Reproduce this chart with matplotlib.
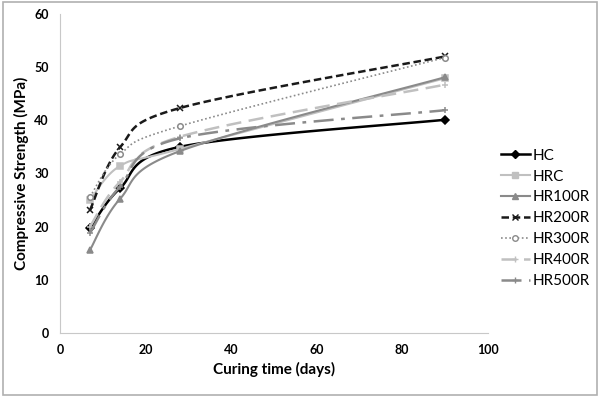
import numpy as np
import matplotlib
matplotlib.use("Agg")
import matplotlib.pyplot as plt

plt.rcParams['font.family'] = ['Lato', 'DejaVu Sans']

# curing days and strengths (MPa)
dias = [7, 14, 28, 90]
series = ["HC", "HRC", "HR100R", "HR200R", "HR300R", "HR400R", "HR500R"]
hc = [19.7, 27.2, 35.0, 40.1]
hrc = [25.0, 31.4, 34.6, 47.9]
hr100r = [15.6, 25.2, 34.2, 48.1]
hr200r = [23.1, 34.9, 42.3, 52.0]
hr300r = [25.6, 33.6, 38.9, 51.8]
hr400r = [20.0, 28.4, 36.9, 46.7]
hr500r = [18.8, 27.5, 36.6, 41.9]
valores = [hc, hrc, hr100r, hr200r, hr300r, hr400r, hr500r]

estilos = [
    dict(color="black", ls="-", marker="D", ms=4, lw=1.8, mfc="black"),
    dict(color="#c0c0c0", ls="-", marker="s", ms=4, lw=1.5, mfc="#c0c0c0"),
    dict(color="#8a8a8a", ls="-", marker="^", ms=4, lw=1.5, mfc="#8a8a8a"),
    dict(color="#1a1a1a", ls=(0, (3, 1.5)), marker="x", ms=4, lw=1.8, mfc="none"),
    dict(color="#8a8a8a", ls=(0, (1, 1.5)), marker="o", ms=4, lw=1.2, mfc="white"),
    dict(color="#c0c0c0", ls=(0, (6, 3)), marker="+", ms=5, lw=1.8, mfc="none"),
    dict(color="#8a8a8a", ls=(0, (8, 3, 1.5, 3)), marker="+", ms=5, lw=1.8, mfc="none"),
]


def suavizar(x, y, sx, sy, n=40):
    # Excel-like smoothed line: cubic Bezier in screen units
    p = np.column_stack([np.array(x) * sx, np.array(y) * sy])
    ext = np.vstack([p[0], p, p[-1]])
    pts = []
    for i in range(len(p) - 1):
        p0, p1, p2, p3 = ext[i], ext[i + 1], ext[i + 2], ext[i + 3]
        c1 = p1 + (p2 - p0) / 6
        c2 = p2 - (p3 - p1) / 6
        t = np.linspace(0, 1, n)[:, None]
        b = ((1 - t) ** 3) * p1 + 3 * ((1 - t) ** 2) * t * c1 + 3 * (1 - t) * t ** 2 * c2 + t ** 3 * p2
        pts.append(b)
    pts = np.vstack(pts)
    return pts[:, 0] / sx, pts[:, 1] / sy


fig = plt.figure(figsize=(6, 3.97), dpi=100)
ax = fig.add_axes([0.1, 0.161, 0.713, 0.804])

sx = 428 / 100
sy = 319 / 60
for nombre, v, st in zip(series, valores, estilos):
    xs, ys = suavizar(dias, v, sx, sy)
    ax.plot(xs, ys, color=st["color"], ls=st["ls"], lw=st["lw"])
    ax.plot(dias, v, ls="none", marker=st["marker"], ms=st["ms"],
            color=st["color"], mfc=st["mfc"], mec=st["color"], mew=1.1)
    ax.plot([], [], color=st["color"], ls=st["ls"], lw=st["lw"], marker=st["marker"],
            ms=st["ms"], mfc=st["mfc"], mec=st["color"], label=nombre)

ax.set_xlim(0, 100)
ax.set_ylim(0, 60)
ax.set_xticks(range(0, 101, 20))
ax.set_yticks(range(0, 61, 10))
for s in ["top", "right"]:
    ax.spines[s].set_visible(False)
for s in ["left", "bottom"]:
    ax.spines[s].set_color("#c8c8c8")
ax.tick_params(length=0, labelsize=9, pad=8)
for lab in ax.get_xticklabels() + ax.get_yticklabels():
    lab.set_fontweight("bold")
ax.set_xlabel("Curing time (days)", fontsize=11, fontweight="bold")
ax.set_ylabel("Compressive Strength (MPa)", fontsize=11, fontweight="bold")

h, l = ax.get_legend_handles_labels()
leg = fig.legend(h, l, loc="upper left", bbox_to_anchor=(0.812, 0.66), frameon=False,
                 fontsize=11, handlelength=1.9, handletextpad=0.2, labelspacing=0.45)

# outer frame
fig.patches.append(plt.Rectangle((0.005, 0.005), 0.99, 0.99, transform=fig.transFigure,
                                 fill=False, edgecolor="#b0b0b0", lw=1.2))

fig.savefig("out.png", dpi=100)
